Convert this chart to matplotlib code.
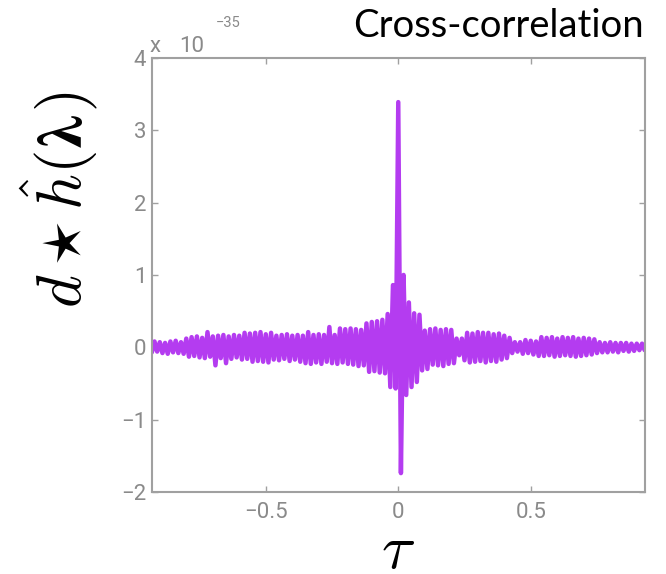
import numpy as np
import matplotlib
matplotlib.use("Agg")
import matplotlib.pyplot as plt

plt.rcParams['mathtext.fontset'] = 'cm'

# ---- data ----
tau_start = -0.94
tau_step = 0.01
corr_values = [
    0.05, -0.07, 0.08, -0.06, 0.07, -0.08, 0.06, -0.09, 0.08, -0.07,
    0.09, -0.08, 0.07, -0.09, 0.12, -0.13, 0.14, -0.12, 0.15, -0.14,
    0.13, -0.15, 0.21, -0.13, 0.15, -0.25, 0.16, -0.15, 0.17, -0.22,
    0.15, -0.16, 0.17, -0.14, 0.16, -0.17, 0.20, -0.16, 0.19, -0.20,
    0.20, -0.19, 0.21, -0.20, 0.18, -0.21, 0.20, -0.17, 0.16, -0.18,
    0.17, -0.16, 0.18, -0.19, 0.16, -0.17, 0.17, -0.20, 0.16, -0.22,
    0.21, -0.23, 0.17, -0.21, 0.18, -0.23, 0.17, -0.20, 0.28, -0.22,
    0.17, -0.23, 0.26, -0.21, 0.25, -0.23, 0.26, -0.24, 0.25, -0.26,
    0.24, -0.25, 0.33, -0.34, 0.35, -0.33, 0.36, -0.35, 0.38, -0.36,
    0.46, -0.55, 0.86, -0.57, 3.39, -1.74, 1.00, -0.66, 0.62, -0.55,
    0.47, -0.48, 0.45, -0.32, 0.23, -0.30, 0.25, -0.24, 0.26, -0.25,
    0.24, -0.26, 0.25, -0.23, 0.24, -0.22, 0.12, -0.11, 0.12, -0.18,
    0.20, -0.21, 0.19, -0.20, 0.21, -0.19, 0.20, -0.21, 0.20, -0.19,
    0.18, -0.20, 0.19, -0.17, 0.16, -0.15, 0.13, -0.08, 0.07, -0.06,
    0.07, -0.09, 0.10, -0.08, 0.09, -0.10, 0.08, -0.12, 0.14, -0.12,
    0.13, -0.11, 0.14, -0.13, 0.12, -0.12, 0.14, -0.11, 0.13, -0.12,
    0.14, -0.13, 0.12, -0.12, 0.13, -0.11, 0.12, -0.10, 0.11, -0.08,
    0.07, -0.07, 0.06, -0.07, 0.07, -0.06, 0.06, -0.07, 0.06, -0.05,
    0.06, -0.06, 0.05, -0.05, 0.05, -0.04, 0.05, -0.04, 0.03,
]
x_ticks = [-0.5, 0, 0.5]
x_tick_labels = ['\u22120.5', '0', '0.5']
y_ticks = [-2, -1, 0, 1, 2, 3, 4]
y_tick_labels = ['\u22122', '\u22121', '0', '1', '2', '3', '4']

tau = tau_start + tau_step * np.arange(len(corr_values))

W, H = 666, 574
fig = plt.figure(figsize=(W / 100, H / 100), dpi=100)
ax = fig.add_axes([0.228, 0.143, 0.740, 0.756])
ax.plot(tau, corr_values, color='#B43CF0', lw=3.2,
        solid_joinstyle='round', solid_capstyle='round')
ax.set_xlim(-0.93, 0.93)
ax.set_ylim(-2, 4)
ax.set_xticks(x_ticks)
ax.set_xticklabels(x_tick_labels)
ax.set_yticks(y_ticks)
ax.set_yticklabels(y_tick_labels)

gray = '#8a8a8a'
for s in ax.spines.values():
    s.set_color('#a0a0a0')
    s.set_linewidth(1.5)
ax.tick_params(direction='in', top=True, right=True, length=4, width=1,
               color='#a0a0a0', labelcolor=gray, labelsize=16)
ax.tick_params(axis='y', pad=4)
ax.tick_params(axis='x', pad=7)
for lab in ax.get_xticklabels() + ax.get_yticklabels():
    lab.set_family('Roboto')

# offset text "x 10^-35"
fig.text(150 / W, 1 - 52 / H, 'x', color=gray, fontsize=16, family='Roboto',
         ha='left', va='baseline')
fig.text(179 / W, 1 - 52 / H, '10', color=gray, fontsize=16, family='Roboto',
         ha='left', va='baseline')
fig.text(216 / W, 1 - 27 / H, '\u221235', color=gray, fontsize=10.5,
         family='Roboto', ha='left', va='baseline')

# title
fig.text(0.966, 1 - 37 / H, 'Cross-correlation', color='black', fontsize=27.5,
         family='Lato', ha='right', va='baseline')

# y label built from pieces so the lambda can be bold
fig.canvas.draw()
renderer = fig.canvas.get_renderer()
xb = 82 / W
y0 = 1 - 308 / H
pieces = [(r'$d \star \hat{h}($', 'cm'),
          (r'$\boldsymbol{\lambda}$', 'stix'),
          (r'$)$', 'cm')]
ycur = y0
for txt, mf in pieces:
    t = fig.text(xb, ycur, txt, rotation=90, rotation_mode='anchor',
                 ha='left', va='baseline', fontsize=45, color='black',
                 math_fontfamily=mf)
    bb = t.get_window_extent(renderer)
    ycur += bb.height / H + 0.004

fig.text(0.5 * (ax.get_position().x0 + ax.get_position().x1), 1 - 521 / H,
         r'$\tau$', fontsize=45, ha='center', va='top', color='black')

fig.savefig('out.png', dpi=100)
